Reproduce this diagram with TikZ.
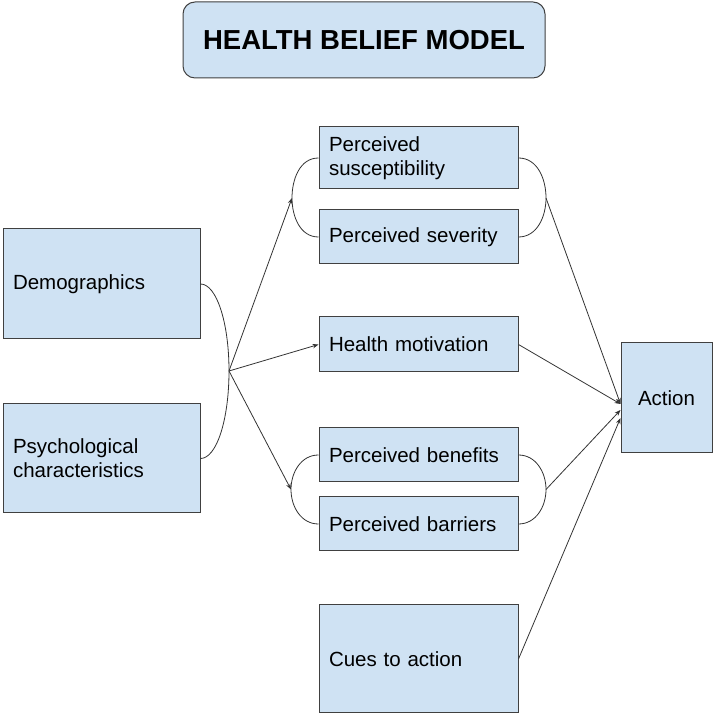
\documentclass[tikz,border=0pt]{standalone}
\usepackage{fontspec}
\setmainfont{Liberation Sans}
\usepackage{tikz}
\usepackage{xcolor}
\usetikzlibrary{arrows, arrows.meta, positioning, calc}
\definecolor{boxblue}{HTML}{CFE2F3}
\definecolor{boxline}{HTML}{404040}
\definecolor{linkgray}{HTML}{333333}
\tikzstyle{heading} = [draw=boxline, fill=boxblue, rectangle, rounded corners=12pt, line width=1pt, minimum width=362pt, minimum height=76pt, text centered, font=\bfseries\fontsize{27.5}{32}\selectfont]
\tikzstyle{factor} = [draw=boxline, fill=boxblue, rectangle, line width=1pt, minimum width=199pt, inner xsep=10pt, text width=179pt, align=left, font=\fontsize{20.5}{24}\selectfont]
\tikzstyle{outcome} = [draw=boxline, fill=boxblue, rectangle, line width=1pt, minimum width=91pt, minimum height=110pt, text centered, font=\fontsize{20.5}{24}\selectfont]
\tikzstyle{bracket} = [draw=linkgray, line width=0.8pt]
\tikzstyle{arrow} = [draw=linkgray, line width=0.8pt, ->, >={Stealth[length=6pt, width=4.5pt]}]

\begin{document}
\begin{tikzpicture}[x=1pt, y=1pt, node distance=20pt]
    \useasboundingbox (0,0) rectangle (714,717);
    \node (title) [heading] at (364,677) {HEALTH BELIEF MODEL};
    \node (dem) [factor, minimum width=197pt, text width=177pt, minimum height=110pt] at (101.5,433) {Demographics};
    \node (psy) [factor, minimum width=197pt, text width=177pt, minimum height=109pt, below=64pt of dem] {Psychological\\characteristics};
    \node (sus) [factor, minimum height=62pt] at (418.5,559) {Perceived\\susceptibility};
    \node (sev) [factor, minimum height=54pt, below=20pt of sus] {Perceived severity};
    \node (hm) [factor, minimum height=55pt, below=52pt of sev] {Health motivation};
    \node (ben) [factor, minimum height=54pt, below=55pt of hm] {Perceived benefits};
    \node (bar) [factor, minimum height=54pt, below=14pt of ben] {Perceived barriers};
    \node (cues) [factor, minimum height=108pt, below=53pt of bar] {Cues to action};
    \node (action) [outcome] at (666.5,319) {Action};

    % bracket tips
    \coordinate (lb) at (229,346);
    \coordinate (tl) at (292,519);
    \coordinate (bl) at (291,227.5);
    \coordinate (tr) at (546,519);
    \coordinate (br) at (546,227.5);

    \draw [bracket] (dem.east) to[out=0, in=90, out looseness=0.45, in looseness=1.35] (lb)
        to[out=-90, in=0, in looseness=0.45, out looseness=1.35] (psy.east);
    \draw [bracket] (sus.west) to[out=180, in=90] (tl) to[out=-90, in=180] (sev.west);
    \draw [bracket] (ben.west) to[out=180, in=90] (bl) to[out=-90, in=180] (bar.west);
    \draw [bracket] (sus.east) to[out=0, in=90] (tr) to[out=-90, in=0] (sev.east);
    \draw [bracket] (ben.east) to[out=0, in=90] (br) to[out=-90, in=0] (bar.east);

    \draw [arrow] (lb) -- (tl);
    \draw [arrow] (lb) -- (hm.west);
    \draw [arrow] (lb) -- (bl);
    \draw [arrow] (tr) -- ([yshift=-6pt]action.west);
    \draw [arrow] (hm.east) -- ([yshift=-6pt]action.west);
    \draw [arrow] (br) -- ([yshift=-12pt]action.west);
    \draw [arrow] (cues.east) -- ([yshift=-20pt]action.west);
\end{tikzpicture}
\end{document}
